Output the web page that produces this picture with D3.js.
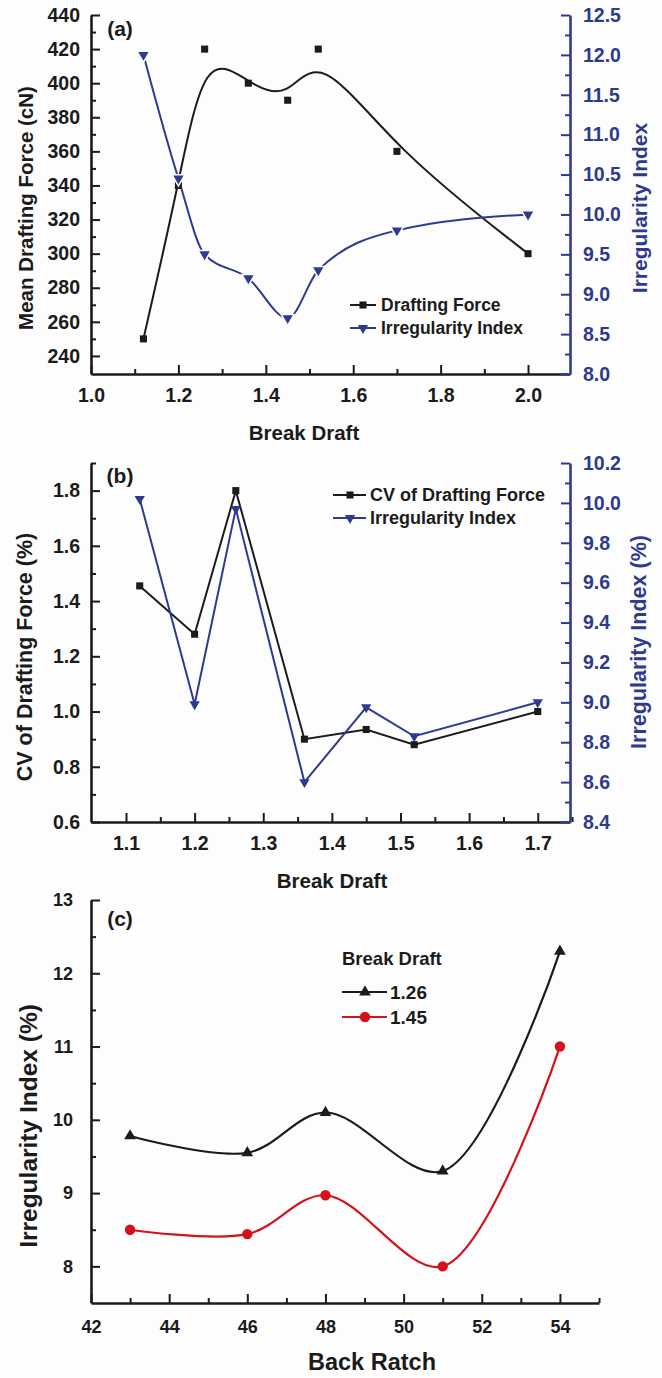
<!DOCTYPE html>
<html>
<head>
<meta charset="utf-8">
<script src="https://cdn.jsdelivr.net/npm/d3@7"></script>
<style>
  body { margin: 0; background: #fdfdfd; }
  text { font-family: "Liberation Sans", Arial, sans-serif; font-weight: bold; }
</style>
</head>
<body>
<script>
// ---- data ----
// panel (a)
var draftA = [1.12, 1.2, 1.26, 1.36, 1.45, 1.52, 1.7, 2.0];
var forceA = [250, 340, 420, 400, 390, 420, 360, 300];
var irregA = [12.0, 10.45, 9.5, 9.2, 8.7, 9.3, 9.8, 10.0];
// panel (b)
var draftB = [1.12, 1.2, 1.26, 1.36, 1.45, 1.52, 1.7];
var cvB = [1.455, 1.28, 1.8, 0.9, 0.935, 0.88, 1.0];
var irregB = [10.02, 8.99, 9.97, 8.6, 8.975, 8.83, 9.0];
// panel (c)
var ratchC = [43, 46, 48, 51, 54];
var irreg126 = [9.78, 9.55, 10.1, 9.3, 12.3];
var irreg145 = [8.5, 8.44, 8.97, 8.0, 11.0];

// tick labels
var xTicksA = [1.0, 1.2, 1.4, 1.6, 1.8, 2.0];
var yTicksA = [240, 260, 280, 300, 320, 340, 360, 380, 400, 420, 440];
var y2TicksA = [8.0, 8.5, 9.0, 9.5, 10.0, 10.5, 11.0, 11.5, 12.0, 12.5];
var xTicksB = [1.1, 1.2, 1.3, 1.4, 1.5, 1.6, 1.7];
var yTicksB = [0.6, 0.8, 1.0, 1.2, 1.4, 1.6, 1.8];
var y2TicksB = [8.4, 8.6, 8.8, 9.0, 9.2, 9.4, 9.6, 9.8, 10.0, 10.2];
var xTicksC = [42, 44, 46, 48, 50, 52, 54];
var yTicksC = [8, 9, 10, 11, 12, 13];

var blue = "#2d3a8f", red = "#d4121c", ink = "#1b1b1b", bg = "#fdfdfd";

var svg = d3.select("body").append("svg")
    .attr("width", 662)
    .attr("height", 1378);

// midpoints between major ticks -> minor ticks
function minors(t, extraEnd) {
  var out = [];
  for (var i = 0; i < t.length - 1; i++) out.push((t[i] + t[i + 1]) / 2);
  if (extraEnd) out.push(t[t.length - 1] + (t[1] - t[0]) / 2);
  return out;
}

function drawAxis(axisFn, scale, majors, minorVals, pos, color, fs, pad, fmt) {
  var g = svg.append("g").attr("transform", pos);
  g.call(axisFn(scale).tickValues(minorVals).tickSizeInner(-5).tickSizeOuter(0).tickFormat(""));
  g.selectAll(".tick line").attr("stroke", color).attr("stroke-width", 2);
  var m = svg.append("g").attr("transform", pos);
  m.call(axisFn(scale).tickValues(majors).tickSizeInner(-9).tickSizeOuter(0)
      .tickPadding(pad).tickFormat(fmt));
  m.attr("font-family", null).attr("font-size", null);
  m.select(".domain").attr("stroke", color).attr("stroke-width", 2.6);
  g.select(".domain").remove();
  m.selectAll(".tick line").attr("stroke", color).attr("stroke-width", 2);
  m.selectAll(".tick text").attr("fill", color).style("font-size", fs + "px");
}

function title(txt, x, y, fs, color, rot) {
  svg.append("text")
      .attr("transform", "translate(" + x + "," + y + ")" + (rot ? " rotate(-90)" : ""))
      .attr("text-anchor", "middle")
      .attr("dominant-baseline", "central")
      .style("font-size", fs + "px")
      .attr("fill", color)
      .text(txt);
}

function pts(xs, ys) { return xs.map(function(d, i) { return [d, ys[i]]; }); }

var sq = d3.symbol().type(d3.symbolSquare).size(50);
var tri = d3.symbol().type(d3.symbolTriangle).size(46);
var triUp = d3.symbol().type(d3.symbolTriangle).size(60);
var circ = d3.symbol().type(d3.symbolCircle).size(85);

function markers(data, x, y, sym, color, rot, halo) {
  svg.append("g").selectAll("path").data(data).enter().append("path")
      .attr("d", sym)
      .attr("transform", function(d) {
        return "translate(" + x(d[0]) + "," + y(d[1]) + ")" + (rot ? " rotate(180)" : "");
      })
      .attr("fill", color)
      .attr("stroke", halo ? bg : "none")
      .attr("stroke-width", halo ? 3 : 0)
      .style("paint-order", "stroke");
}

// ============ panel (a) ============
var xA = d3.scaleLinear().domain([1.0, 2.096]).range([91, 570]);
var yA = d3.scaleLinear().domain([229.4, 440]).range([374, 15]);
var y2A = d3.scaleLinear().domain([8.0, 12.5]).range([374, 15]);

drawAxis(d3.axisBottom, xA, xTicksA, minors(xTicksA), "translate(0,374)", ink, 19.5, 14, d3.format(".1f"));
drawAxis(d3.axisLeft, yA, yTicksA, minors(yTicksA), "translate(91,0)", ink, 19.5, 11, d3.format("d"));
drawAxis(d3.axisRight, y2A, y2TicksA, minors(y2TicksA), "translate(570,0)", blue, 19.5, 13, d3.format(".1f"));

var forcePts = pts(draftA, forceA);
var irrPtsA = pts(draftA, irregA);

svg.append("path")
    .datum(forcePts)
    .attr("fill", "none").attr("stroke", ink).attr("stroke-width", 2)
    .attr("d", d3.line().curve(d3.curveBasis)
      .x(function(d) { return xA(d[0]); }).y(function(d) { return yA(d[1]); }));
svg.append("path")
    .datum(irrPtsA)
    .attr("fill", "none").attr("stroke", blue).attr("stroke-width", 2)
    .attr("d", d3.line().curve(d3.curveMonotoneX)
      .x(function(d) { return xA(d[0]); }).y(function(d) { return y2A(d[1]); }));
markers(forcePts, xA, yA, sq, ink, false, false);
markers(irrPtsA, xA, y2A, tri, blue, true, true);

title("(a)", 120, 28, 21, ink, false);
title("Mean Drafting Force (cN)", 25, 208, 20.5, ink, true);
title("Irregularity Index", 639, 208, 21, blue, true);
title("Break Draft", 304, 432, 20.5, ink, false);

// legend (a)
var legA = [["Drafting Force", ink, sq, false], ["Irregularity Index", blue, tri, true]];
legA.forEach(function(l, i) {
  var ly = 305 + i * 23;
  svg.append("line").attr("x1", 350).attr("x2", 376).attr("y1", ly).attr("y2", ly)
      .attr("stroke", l[1]).attr("stroke-width", 2);
  svg.append("path").attr("d", l[2]).attr("fill", l[1])
      .attr("transform", "translate(363," + ly + ")" + (l[3] ? " rotate(180)" : ""));
  svg.append("text").attr("x", 381).attr("y", ly).attr("dominant-baseline", "central")
      .style("font-size", "17.5px").attr("fill", ink).text(l[0]);
});

// ============ panel (b) ============
var xB = d3.scaleLinear().domain([1.049, 1.747]).range([91, 570]);
var yB = d3.scaleLinear().domain([0.6, 1.9]).range([822, 463]);
var y2B = d3.scaleLinear().domain([8.4, 10.2]).range([822, 463]);

drawAxis(d3.axisBottom, xB, xTicksB, minors(xTicksB, true), "translate(0,822)", ink, 19.5, 14, d3.format(".1f"));
drawAxis(d3.axisLeft, yB, yTicksB, minors(yTicksB, true), "translate(91,0)", ink, 19.5, 11, d3.format(".1f"));
drawAxis(d3.axisRight, y2B, y2TicksB, minors(y2TicksB), "translate(570,0)", blue, 19.5, 13, d3.format(".1f"));

var cvPts = pts(draftB, cvB);
var irrPtsB = pts(draftB, irregB);

svg.append("path")
    .datum(cvPts)
    .attr("fill", "none").attr("stroke", ink).attr("stroke-width", 2)
    .attr("d", d3.line().x(function(d) { return xB(d[0]); }).y(function(d) { return yB(d[1]); }));
svg.append("path")
    .datum(irrPtsB)
    .attr("fill", "none").attr("stroke", blue).attr("stroke-width", 2)
    .attr("d", d3.line().x(function(d) { return xB(d[0]); }).y(function(d) { return y2B(d[1]); }));
markers(cvPts, xB, yB, sq, ink, false, false);
markers(irrPtsB, xB, y2B, tri, blue, true, false);

title("(b)", 120, 475, 21, ink, false);
title("CV of Drafting Force (%)", 25, 657, 21.5, ink, true);
title("Irregularity Index (%)", 639, 642, 21.5, blue, true);
title("Break Draft", 332, 880, 20.5, ink, false);

var legB = [["CV of Drafting Force", ink, sq, false], ["Irregularity Index", blue, tri, true]];
legB.forEach(function(l, i) {
  var ly = 495 + i * 23;
  svg.append("line").attr("x1", 333).attr("x2", 366).attr("y1", ly).attr("y2", ly)
      .attr("stroke", l[1]).attr("stroke-width", 2);
  svg.append("path").attr("d", l[2]).attr("fill", l[1])
      .attr("transform", "translate(350," + ly + ")" + (l[3] ? " rotate(180)" : ""));
  svg.append("text").attr("x", 370).attr("y", ly).attr("dominant-baseline", "central")
      .style("font-size", "18px").attr("fill", ink).text(l[0]);
});

// ============ panel (c) ============
var xC = d3.scaleLinear().domain([42, 55]).range([91, 599]);
var yC = d3.scaleLinear().domain([7.5, 13]).range([1303, 900]);

drawAxis(d3.axisBottom, xC, xTicksC, minors(xTicksC, true), "translate(0,1303)", ink, 18, 17, d3.format("d"));
drawAxis(d3.axisLeft, yC, yTicksC, minors(yTicksC), "translate(91,0)", ink, 18, 18, d3.format("d"));

var p126 = pts(ratchC, irreg126);
var p145 = pts(ratchC, irreg145);
var lineC = d3.line().curve(d3.curveCatmullRom)
    .x(function(d) { return xC(d[0]); }).y(function(d) { return yC(d[1]); });

svg.append("path").datum(p126)
    .attr("fill", "none").attr("stroke", ink).attr("stroke-width", 2.2).attr("d", lineC);
svg.append("path").datum(p145)
    .attr("fill", "none").attr("stroke", red).attr("stroke-width", 2.2).attr("d", lineC);
markers(p126, xC, yC, triUp, ink, false, false);
markers(p145, xC, yC, circ, red, false, false);

title("(c)", 120, 918, 21, ink, false);
title("Irregularity Index (%)", 28, 1126, 24.5, ink, true);
title("Back Ratch", 372, 1362, 23.5, ink, false);

svg.append("text").attr("x", 342).attr("y", 958).attr("dominant-baseline", "central")
    .style("font-size", "18.5px").attr("fill", ink).text("Break Draft");
var legC = [["1.26", ink, triUp], ["1.45", red, circ]];
legC.forEach(function(l, i) {
  var ly = 992 + i * 25;
  svg.append("line").attr("x1", 342).attr("x2", 387).attr("y1", ly).attr("y2", ly)
      .attr("stroke", l[1]).attr("stroke-width", 2.2);
  svg.append("path").attr("d", l[2]).attr("fill", l[1])
      .attr("transform", "translate(365," + ly + ")");
  svg.append("text").attr("x", 390).attr("y", ly).attr("dominant-baseline", "central")
      .style("font-size", "19px").attr("fill", ink).text(l[0]);
});
</script>
</body>
</html>
